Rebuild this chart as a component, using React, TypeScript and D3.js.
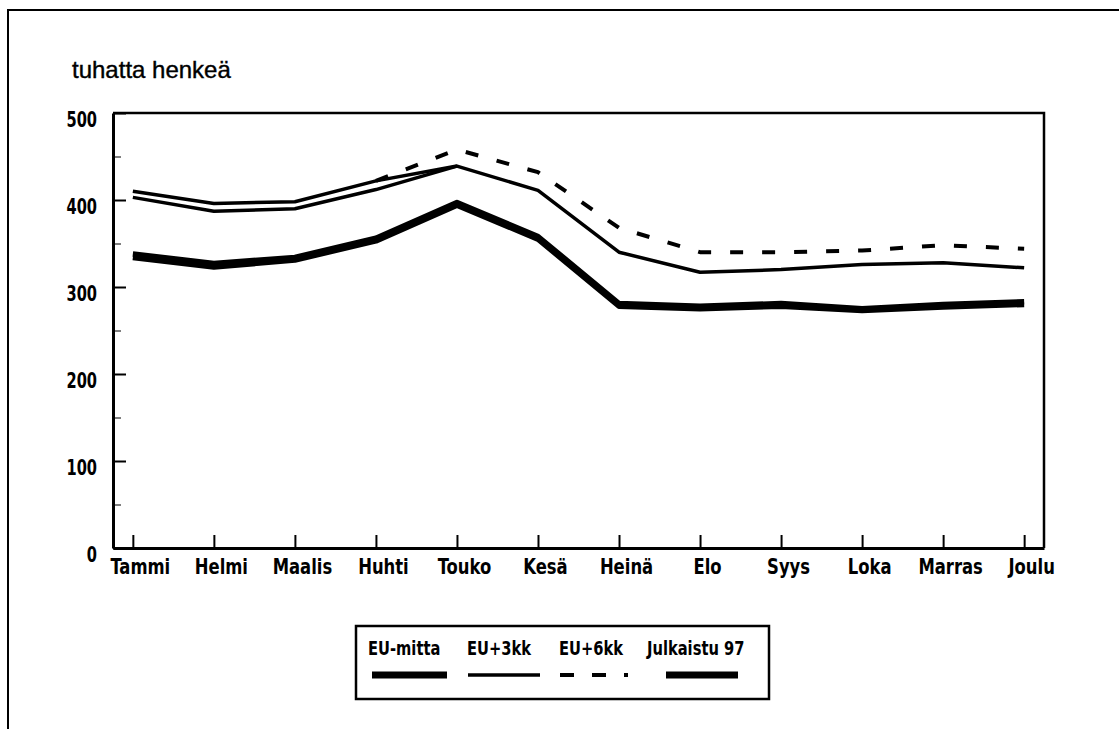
import { useEffect, useRef } from 'react';
import * as d3 from 'd3';

// months and series (thousands of persons)
const months = ['Tammi', 'Helmi', 'Maalis', 'Huhti', 'Touko', 'Kesä', 'Heinä', 'Elo', 'Syys', 'Loka', 'Marras', 'Joulu'];
const euMitta = [334, 323, 331, 353, 394, 355, 278, 275, 278, 273, 277, 280];
const julkaistu97 = [338, 327, 334, 356, 397, 358, 281, 278, 281, 275, 280, 283];
const eu3kk = [410, 396, 398, 422, 439, 411, 340, 317, 320, 326, 328, 322];
const eu3kkPrev = [403, 387, 390, 412, 439, null, null, null, null, null, null, null];
const eu6kk = [null, null, null, 422, 458, 432, 368, 340, 340, 342, 348, 344];
const yMajor = [0, 100, 200, 300, 400, 500];
const yMinor = [50, 150, 250, 350, 450];
const legendLabels = ['EU-mitta', 'EU+3kk', 'EU+6kk', 'Julkaistu 97'];

const narrow = "'Liberation Sans Narrow', 'DejaVu Sans Condensed', 'Arial Narrow', sans-serif";

const App = () => {
  const svgRef = useRef<SVGSVGElement | null>(null);

  useEffect(() => {
    if (!svgRef.current) return;
    const svg = d3.select(svgRef.current);
    svg.selectAll('*').remove();

    const left = 113, right = 1044, top = 113, bottom = 548;

    const x = d3.scalePoint<string>().domain(months).range([left, right]).padding(0.245);
    const y = d3.scaleLinear().domain([0, 500]).range([bottom, top]);

    // outer frame (top + left only)
    svg.append('path')
      .attr('d', 'M8,729 L8,10 L1119,10')
      .attr('fill', 'none')
      .attr('stroke', '#000')
      .attr('stroke-width', 2);

    // title
    svg.append('text')
      .attr('x', 72)
      .attr('y', 78)
      .attr('font-family', "'Liberation Sans', Arial, sans-serif")
      .attr('font-size', 24)
      .attr('fill', '#000')
      .attr('stroke', '#000')
      .attr('stroke-width', 0.4)
      .text('tuhatta henkeä');

    // plot frame top + right
    svg.append('path')
      .attr('d', `M${left},${top} L${right},${top} L${right},${bottom}`)
      .attr('fill', 'none')
      .attr('stroke', '#000')
      .attr('stroke-width', 2.5);

    // y axis
    const yAxis = svg.append('g')
      .attr('transform', `translate(${left},0)`)
      .call(d3.axisLeft(y).tickValues(yMajor).tickSizeInner(-13).tickSizeOuter(0).tickPadding(0));
    svg.append('g')
      .attr('transform', `translate(${left},0)`)
      .call(d3.axisLeft(y).tickValues(yMinor).tickSizeInner(-8).tickSizeOuter(0).tickFormat(() => ''))
      .call(g => g.select('.domain').remove());

    // x axis
    const xAxis = svg.append('g')
      .attr('transform', `translate(0,${bottom})`)
      .call(d3.axisBottom(x).tickSizeInner(-13).tickSizeOuter(0).tickPadding(10));

    [yAxis, xAxis].forEach(ax => {
      ax.select('.domain').attr('stroke', '#000').attr('stroke-width', 3);
      ax.selectAll('.tick line').attr('stroke', '#000').attr('stroke-width', 2);
      ax.selectAll('.tick text')
        .attr('fill', '#000')
        .attr('font-family', narrow)
        .attr('font-weight', 'bold')
        .attr('font-size', 22);
    });
    yAxis.selectAll('.tick text')
      .attr('x', 0)
      .attr('dy', '0.62em')
      .attr('transform', 'translate(-16,0) scale(0.74,1)');
    xAxis.selectAll('.tick text')
      .attr('transform', 'translate(7,0) scale(0.83,1)');

    const line = d3.line<number | null>()
      .defined(d => d != null)
      .x((d, i) => x(months[i]) as number)
      .y(d => y(d as number));

    const series = [
      { values: eu3kkPrev, width: 3.5, dash: null },
      { values: eu3kk, width: 3.5, dash: null },
      { values: eu6kk, width: 4, dash: '13 19' },
      { values: euMitta, width: 5.5, dash: null },
      { values: julkaistu97, width: 5.5, dash: null },
    ];

    svg.append('g')
      .selectAll('path')
      .data(series)
      .enter()
      .append('path')
      .attr('d', d => line(d.values))
      .attr('fill', 'none')
      .attr('stroke', '#000')
      .attr('stroke-width', d => d.width)
      .attr('stroke-linejoin', 'round')
      .attr('stroke-dasharray', d => d.dash);

    // legend
    const lg = svg.append('g');
    lg.append('rect')
      .attr('x', 356)
      .attr('y', 626)
      .attr('width', 413)
      .attr('height', 73)
      .attr('fill', 'none')
      .attr('stroke', '#000')
      .attr('stroke-width', 2.5);

    const textX = [368, 467, 559, 647];
    const sampleX = [[372, 447], [468, 540], [560, 628], [666, 738]];
    const sampleW = [7, 3.5, 4, 7];
    const sampleDash = [null, null, '14 18 14 18 4', null];

    lg.selectAll('text')
      .data(legendLabels)
      .enter()
      .append('text')
      .attr('transform', (d, i) => `translate(${textX[i]},655) scale(0.86,1)`)
      .attr('font-family', narrow)
      .attr('font-weight', 'bold')
      .attr('font-size', 19)
      .attr('fill', '#000')
      .text(d => d);

    lg.selectAll('line')
      .data(legendLabels)
      .enter()
      .append('line')
      .attr('x1', (d, i) => sampleX[i][0])
      .attr('x2', (d, i) => sampleX[i][1])
      .attr('y1', 675)
      .attr('y2', 675)
      .attr('stroke', '#000')
      .attr('stroke-width', (d, i) => sampleW[i])
      .attr('stroke-dasharray', (d, i) => sampleDash[i]);
  }, []);

  return (
    <svg
      ref={svgRef}
      width={1119}
      height={729}
      style={{ position: 'absolute', left: 0, top: 0, background: '#fff' }}
    />
  );
};

export default App;
